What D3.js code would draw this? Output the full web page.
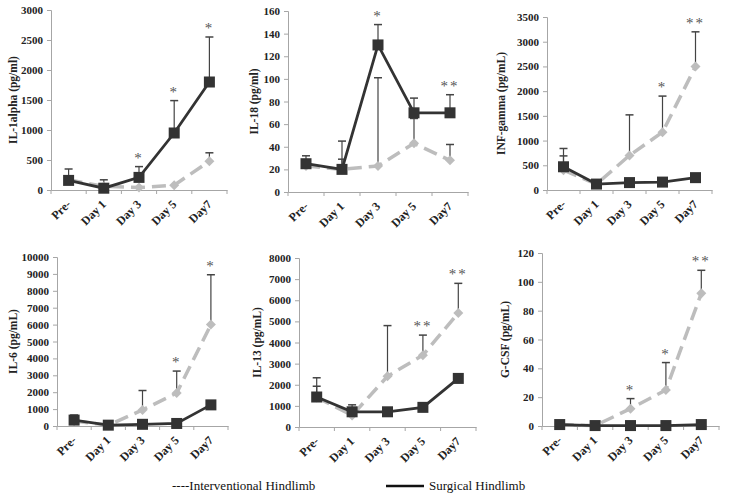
<!DOCTYPE html>
<html><head><meta charset="utf-8">
<script src="https://cdn.jsdelivr.net/npm/d3@7"></script>
<style>
body{margin:0;background:#fff;}
svg{display:block;}
svg text{font-family:"Liberation Serif","DejaVu Serif","Times New Roman",Times,serif !important;}
</style></head>
<body><svg id="chart" width="729" height="497"></svg>
<script>
const categories = ["Pre-", "Day 1", "Day 3", "Day 5", "Day7"];
const panelTitles = ["IL-1alpha (pg/ml)", "IL-18 (pg/ml)", "INF-gamma (pg/mL)", "IL-6 (pg/mL)", "IL-13 (pg/mL)", "G-CSF (pg/mL)"];
const yMaxes = [3000, 160, 3500, 10000, 8000, 120];
const yTickSteps = [500, 20, 500, 1000, 1000, 20];

// Surgical hindlimb (black squares, solid)
const il1aSurgical = [160, 30, 210, 950, 1800];
const il1aSurgicalErr = [350, 170, 390, 1490, 2550];
const il18Surgical = [25, 20, 130, 70, 70];
const il18SurgicalErr = [32, 45, 148, 83, 86];
const infgSurgical = [470, 120, 150, 160, 250];
const infgSurgicalErr = [840, null, null, null, null];
const il6Surgical = [350, 50, 100, 150, 1250];
const il6SurgicalErr = [650, null, null, null, null];
const il13Surgical = [1420, 720, 720, 930, 2300];
const il13SurgicalErr = [2330, 1050, null, null, null];
const gcsfSurgical = [1, 0.3, 0.3, 0.3, 1];
const gcsfSurgicalErr = [null, null, null, null, null];

// Interventional hindlimb (grey diamonds, dashed)
const il1aInterv = [170, 60, 40, 80, 480];
const il1aIntervErr = [230, null, null, null, 620];
const il18Interv = [23, 20, 23, 43, 28];
const il18IntervErr = [null, 29, 101, 65, 42];
const infgInterv = [400, 120, 700, 1170, 2500];
const infgIntervErr = [690, null, 1520, 1900, 3200];
const il6Interv = [300, 50, 950, 1950, 6000];
const il6IntervErr = [null, null, 2100, 3250, 8950];
const il13Interv = [1400, 550, 2400, 3400, 5400];
const il13IntervErr = [1930, null, 4800, 4350, 6800];
const gcsfInterv = [1, 0.3, 12, 25, 92];
const gcsfIntervErr = [null, null, 19, 44, 108];

// Significance markers
const il1aStars = ["", "", "*", "*", "*"];
const il18Stars = ["", "", "*", "", "**"];
const infgStars = ["", "", "", "*", "**"];
const il6Stars = ["", "", "", "*", "*"];
const il13Stars = ["", "", "", "**", "**"];
const gcsfStars = ["", "", "*", "*", "**"];

const surgicalSets = [il1aSurgical, il18Surgical, infgSurgical, il6Surgical, il13Surgical, gcsfSurgical];
const surgicalErrSets = [il1aSurgicalErr, il18SurgicalErr, infgSurgicalErr, il6SurgicalErr, il13SurgicalErr, gcsfSurgicalErr];
const intervSets = [il1aInterv, il18Interv, infgInterv, il6Interv, il13Interv, gcsfInterv];
const intervErrSets = [il1aIntervErr, il18IntervErr, infgIntervErr, il6IntervErr, il13IntervErr, gcsfIntervErr];
const starSets = [il1aStars, il18Stars, infgStars, il6Stars, il13Stars, gcsfStars];

// layout: axis left, right, top, bottom, title x
const layouts = [
  {l: 51, r: 227, t: 10, b: 190, tx: 13},
  {l: 288, r: 468, t: 11, b: 192, tx: 254},
  {l: 547, r: 712, t: 17, b: 190, tx: 501},
  {l: 57, r: 228, t: 257, b: 426, tx: 13},
  {l: 299, r: 476, t: 258, b: 427, tx: 257},
  {l: 542, r: 719, t: 253, b: 426, tx: 505}
];

const FONT = "Liberation Serif, DejaVu Serif, serif";
const svg = d3.select("#chart");
const grey = "#bdbdbd", dark = "#333333", axisCol = "#a6a6a6";

layouts.forEach((L, i) => {
  const g = svg.append("g");
  const x = d3.scaleBand().domain(categories).range([L.l, L.r]);
  const y = d3.scaleLinear().domain([0, yMaxes[i]]).range([L.b, L.t]);
  const ticks = d3.range(0, yMaxes[i] + 1e-9, yTickSteps[i]);

  // y axis
  const ya = g.append("g").attr("transform", `translate(${L.l},0)`)
    .call(d3.axisLeft(y).tickValues(ticks).tickSize(4).tickPadding(4).tickFormat(d3.format("d")));
  ya.attr("font-family", FONT);
  ya.select(".domain").attr("stroke", axisCol);
  ya.selectAll(".tick line").attr("stroke", axisCol);
  ya.selectAll(".tick text").attr("font-weight", "bold")
    .attr("font-size", 11).attr("fill", "#222");

  // x axis
  const xa = g.append("g").attr("transform", `translate(0,${L.b})`)
    .call(d3.axisBottom(x).tickSize(0).tickFormat(""));
  xa.select(".domain").attr("stroke", axisCol);
  xa.selectAll(".tick").remove();
  const bounds = categories.map(c => x(c)).concat([L.r]);
  g.selectAll(".xtick").data(bounds).enter().append("line")
    .attr("x1", d => d).attr("x2", d => d).attr("y1", L.b).attr("y2", L.b + 4)
    .attr("stroke", axisCol);
  g.selectAll(".xlab").data(categories).enter().append("text")
    .attr("transform", d => `translate(${x(d) + x.bandwidth() / 2},${L.b + 12}) rotate(-45)`)
    .attr("text-anchor", "end").attr("font-weight", "bold").attr("font-size", 12).attr("fill", "#222")
    .attr("dy", "0.35em").text(d => d);

  // y title
  g.append("text").attr("transform", `translate(${L.tx},${(L.t + L.b) / 2}) rotate(-90)`)
    .attr("text-anchor", "middle").attr("dy", "0.35em").attr("font-weight", "bold").attr("font-size", 11.5)
    .attr("fill", "#222").text(panelTitles[i]);

  const cx = c => x(c) + x.bandwidth() / 2;

  // error bars
  function errBars(vals, errs) {
    categories.forEach((c, k) => {
      if (errs[k] == null) return;
      g.append("line").attr("x1", cx(c)).attr("x2", cx(c)).attr("y1", y(vals[k])).attr("y2", y(errs[k]))
        .attr("stroke", "#444").attr("stroke-width", 1.2);
      g.append("line").attr("x1", cx(c) - 4).attr("x2", cx(c) + 4).attr("y1", y(errs[k])).attr("y2", y(errs[k]))
        .attr("stroke", "#444").attr("stroke-width", 1.5);
    });
  }
  errBars(intervSets[i], intervErrSets[i]);
  errBars(surgicalSets[i], surgicalErrSets[i]);

  const line = d3.line().x((d, k) => cx(categories[k])).y(d => y(d));

  // interventional
  g.append("path").datum(intervSets[i]).attr("d", line).attr("fill", "none")
    .attr("stroke", grey).attr("stroke-width", 3.5).attr("stroke-dasharray", "14,7");
  g.selectAll(".dia").data(intervSets[i]).enter().append("path")
    .attr("d", d3.symbol().type(d3.symbolDiamond2).size(64))
    .attr("transform", (d, k) => `translate(${cx(categories[k])},${y(d)})`)
    .attr("fill", grey);

  // surgical
  g.append("path").datum(surgicalSets[i]).attr("d", line).attr("fill", "none")
    .attr("stroke", dark).attr("stroke-width", 2.8);
  g.selectAll(".sq").data(surgicalSets[i]).enter().append("rect")
    .attr("x", (d, k) => cx(categories[k]) - 5.5).attr("y", d => y(d) - 5.5)
    .attr("width", 11).attr("height", 11).attr("fill", dark);

  // stars
  categories.forEach((c, k) => {
    const s = starSets[i][k];
    if (!s) return;
    const top = Math.max(surgicalErrSets[i][k] ?? surgicalSets[i][k], intervErrSets[i][k] ?? intervSets[i][k],
      surgicalSets[i][k], intervSets[i][k]);
    g.append("text").attr("x", cx(c)).attr("y", y(top) - 4).attr("text-anchor", "middle")
      .attr("font-size", 15).attr("fill", "#555").attr("letter-spacing", 2).text(s);
  });
});

// legend
const lg = svg.append("g");
lg.append("text").attr("x", 172).attr("y", 490).attr("font-size", 13).attr("fill", "#111").text("----Interventional Hindlimb");
lg.append("line").attr("x1", 386).attr("x2", 424).attr("y1", 486).attr("y2", 486).attr("stroke", "#111").attr("stroke-width", 2.5);
lg.append("text").attr("x", 429).attr("y", 490).attr("font-size", 13).attr("fill", "#111").text("Surgical Hindlimb");
</script></body></html>
